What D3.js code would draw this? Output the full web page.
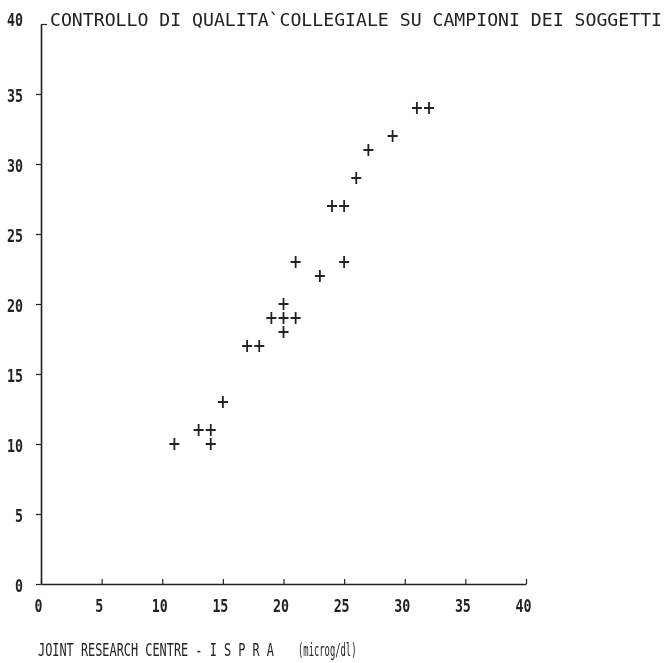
<!DOCTYPE html>
<html>
<head>
<meta charset="utf-8">
<script src="https://cdn.jsdelivr.net/npm/d3@7"></script>
<style>
  html, body { margin: 0; padding: 0; background: #fff; }
  svg { display: block; }
  text { font-family: "DejaVu Sans Mono", "Liberation Mono", monospace; fill: #222; }
</style>
</head>
<body>
<div id="chart"></div>
<script>
// Joint Research Centre (x) vs. collegiate quality control (y), microg/dl
const jrcValues = [11, 13, 14, 14, 15, 17, 18, 19, 20, 21, 20, 20, 21, 23, 25, 24, 25, 26, 27, 29, 31, 32];
const qcValues  = [10, 11, 11, 10, 13, 17, 17, 19, 19, 19, 20, 18, 23, 22, 23, 27, 27, 29, 31, 32, 34, 34];
const tickValues = [0, 5, 10, 15, 20, 25, 30, 35, 40];
const titleText = "CONTROLLO DI QUALITA`COLLEGIALE SU CAMPIONI DEI SOGGETTI";
const xTitleMain = "JOINT RESEARCH CENTRE - I S P R A";
const xTitleUnit = "(microg/dl)";

const W = 665, H = 663;
const ink = "#222";

const svg = d3.select("#chart").append("svg")
  .attr("width", W).attr("height", H);

svg.append("defs").append("filter").attr("id", "soft")
  .append("feGaussianBlur").attr("stdDeviation", 0.35);

const x = d3.scaleLinear().domain([0, 40]).range([41, 526]);
const y = d3.scaleLinear().domain([0, 40]).range([584, 24]);

const g = svg.append("g").attr("filter", "url(#soft)");

// narrow plotter-style digits
function styleTickText(sel) {
  sel.attr("font-size", 17).attr("fill", ink)
    .attr("font-weight", "bold")
    .style("font-family", "DejaVu Sans Mono")
    .attr("textLength", d => String(d).length * 8)
    .attr("lengthAdjust", "spacingAndGlyphs");
}

// y axis: ticks point outward, the top one turns inward
const yAxis = g.append("g")
  .attr("transform", `translate(${x(0)},0)`)
  .call(d3.axisLeft(y).tickValues(tickValues).tickSize(5).tickSizeOuter(0).tickPadding(13));
yAxis.select(".domain").attr("stroke", ink).attr("stroke-width", 1.6);
yAxis.selectAll(".tick line").attr("stroke", ink).attr("stroke-width", 1.2);
yAxis.selectAll(".tick").filter(d => d === 40).select("line").attr("x2", 6);
yAxis.selectAll(".tick text").call(styleTickText).attr("dy", "0.45em");
yAxis.selectAll(".tick").filter(d => d === 40).select("text").attr("dy", "0.1em");

// x axis: short ticks pointing up into the plot
const xAxis = g.append("g")
  .attr("transform", `translate(0,${y(0)})`)
  .call(d3.axisBottom(x).tickValues(tickValues).tickSize(0).tickSizeOuter(0).tickPadding(16));
xAxis.select(".domain").attr("stroke", ink).attr("stroke-width", 1.6);
xAxis.selectAll(".tick line").attr("y2", -5).attr("stroke", ink).attr("stroke-width", 1.2);
xAxis.selectAll(".tick text").call(styleTickText).attr("dx", "-3");

// title across the top of the frame
g.append("text")
  .attr("x", 50).attr("y", 26)
  .attr("font-size", 18)
  .attr("textLength", 612).attr("lengthAdjust", "spacingAndGlyphs")
  .text(titleText);

// x axis title and units, drawn as condensed lettering
g.append("text")
  .attr("transform", "translate(38,656) scale(0.66,1)")
  .attr("font-size", 18)
  .text(xTitleMain);
g.append("text")
  .attr("transform", "translate(298,656) scale(0.52,1)")
  .attr("font-size", 17)
  .text(xTitleUnit);

// plus markers
const data = jrcValues.map((v, i) => ({ jrc: v, qc: qcValues[i] }));
const arm = 5;
g.append("g").selectAll("path").data(data).join("path")
  .attr("d", d => {
    const cx = x(d.jrc), cy = y(d.qc);
    return `M${cx - arm},${cy}H${cx + arm}M${cx},${cy - arm - 1}V${cy + arm + 1}`;
  })
  .attr("stroke", ink).attr("stroke-width", 1.8).attr("fill", "none");
</script>
</body>
</html>
